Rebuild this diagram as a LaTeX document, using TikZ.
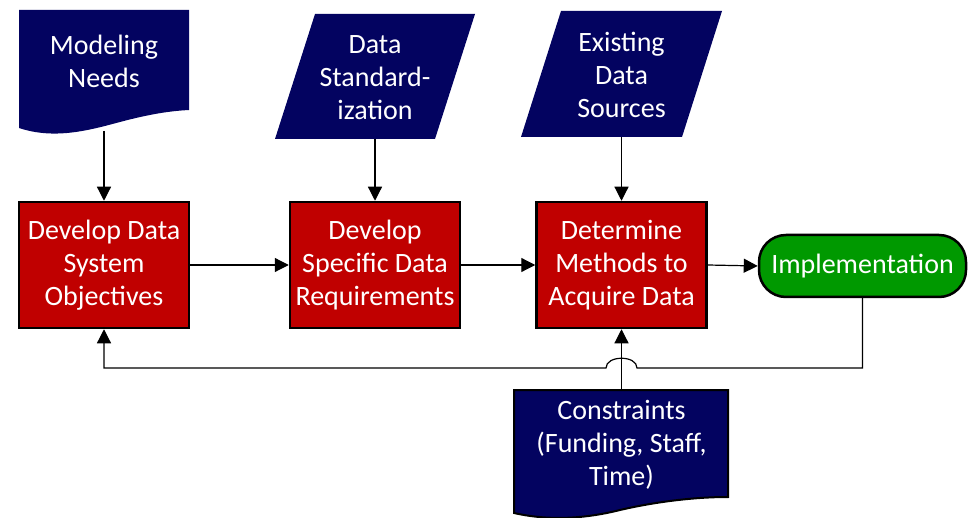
\documentclass[tikz,border=0pt]{standalone}
\usepackage{fontspec}
\setmainfont{Carlito}
\usetikzlibrary{arrows.meta}
\definecolor{navyfill}{RGB}{3,3,96}
\definecolor{redfill}{RGB}{192,0,0}
\definecolor{greenfill}{RGB}{0,153,0}
\tikzset{
  txt/.style={text=white, align=center, font=\fontsize{28}{33}\selectfont, inner sep=0pt},
  procbox/.style={txt, draw=black, line width=2.5pt, fill=redfill, minimum width=170pt, minimum height=126pt},
  termbox/.style={txt, draw=black, line width=2.5pt, fill=greenfill, rounded corners=27pt, minimum width=207pt, minimum height=62pt},
  navyshape/.style={fill=navyfill},
  conn/.style={line width=1.2pt, -{Triangle[length=14pt,width=14pt]}},
  plainline/.style={line width=1.2pt}
}
\begin{document}
\begin{tikzpicture}[x=1pt,y=-1pt]
\useasboundingbox (0,0) rectangle (971,518);
% input shapes
\fill[navyshape] (19,10) -- (189,10) -- (189,110) .. controls (170,111) and (150,114) .. (120,122) .. controls (90,130) and (55,140) .. (19,128) -- cycle;
\node[txt] (mn) at (104,61) {Modeling\\Needs};
\coordinate (mnb) at (104,131);
\fill[navyshape] (315,14) -- (475,14) -- (435,139) -- (275,139) -- cycle;
\node[txt] (ds) at (375,78) {Data\\Standard-\\ization};
\coordinate (dsb) at (375,139);
\fill[navyshape] (561,11) -- (722,11) -- (682,137) -- (521,137) -- cycle;
\node[txt] (es) at (621.5,75) {Existing\\Data\\Sources};
\coordinate (esb) at (621.5,137);
% process boxes
\node[procbox] (b1) at (104,265) {Develop Data\\System\\Objectives};
\node[procbox] (b2) at (375,265) {Develop\\Specific Data\\Requirements};
\node[procbox] (b3) at (621.5,265) {Determine\\Methods to\\Acquire Data};
\node[termbox] (impl) at (862.5,266) {Implementation};
% constraints
\filldraw[navyshape, draw=black, line width=2pt] (514,390) -- (728,390) -- (728,497) .. controls (690,497) and (650,503) .. (620,510) .. controls (580,520) and (545,520) .. (514,513) -- cycle;
\node[txt] (con) at (621.5,445) {Constraints\\(Funding, Staff,\\Time)};
\coordinate (cont) at (621.5,390);
% connectors
\draw[conn] (mnb) -- (b1.north);
\draw[conn] (dsb) -- (b2.north);
\draw[conn] (esb) -- (b3.north);
\draw[conn] (b1.east) -- (b2.west);
\draw[conn] (b2.east) -- (b3.west);
\draw[conn] (b3.east) -- (impl.west);
\draw[conn] (cont) -- (b3.south);
\coordinate (jr) at (637,368);
\coordinate (jl) at (606,368);
\draw[conn] (impl.south) |- (jr) .. controls (637,355) and (606,355) .. (jl) -| (b1.south);
\end{tikzpicture}
\end{document}
